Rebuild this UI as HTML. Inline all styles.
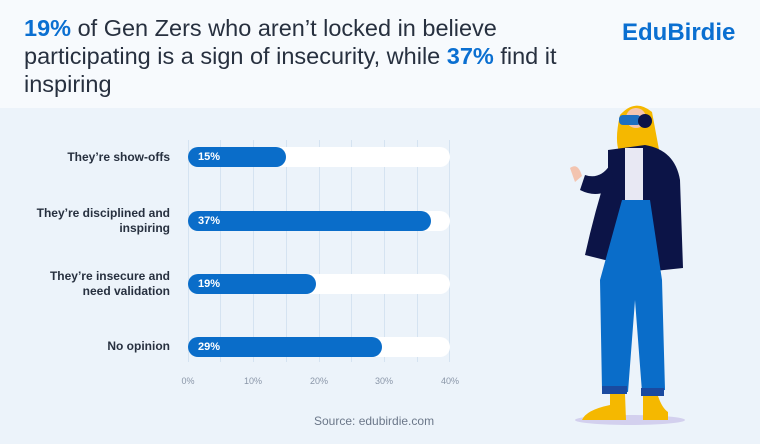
<!DOCTYPE html>
<html><head><meta charset="utf-8"><style>
body{margin:0;width:760px;height:444px;overflow:hidden;background:#ecf3fa;font-family:"Liberation Sans",sans-serif;position:relative}
.hdr{position:absolute;left:0;top:0;width:760px;height:108px;background:#f7fafd}
.title{position:absolute;left:24px;top:14px;width:575px;font-size:23.5px;line-height:28px;color:#27303f}
.title b{color:#0a6fd1}
.logo{position:absolute;left:622px;top:19px;font-size:24px;font-weight:bold;color:#0a6fd1}
.lbl{position:absolute;right:590px;font-size:12px;line-height:15px;color:#27303f;text-align:right;font-weight:bold;width:200px}
.grid{position:absolute;top:140px;width:1px;height:222px;background:#d5e3f1}
.track{position:absolute;left:188px;width:262px;height:20px;border-radius:10px;background:#fff}
.bar{position:absolute;left:188px;height:20px;border-radius:10px;background:#0a6dc9;color:#fff;font-size:11px;font-weight:bold;line-height:20px;box-sizing:border-box;padding-left:10px}
.tick{position:absolute;top:376px;font-size:9px;color:#8a96a8;width:30px;text-align:center}
.src{position:absolute;left:314px;top:414px;font-size:12px;color:#6b7789}
</style></head><body>
<div class="hdr"></div>
<div class="title"><b>19%</b> of Gen Zers who aren’t locked in believe participating is a sign of insecurity, while <b>37%</b> find it inspiring</div>
<div class="logo">EduBirdie</div>
<div class="grid" style="left:188px"></div><div class="grid" style="left:220px"></div><div class="grid" style="left:253px"></div><div class="grid" style="left:286px"></div><div class="grid" style="left:319px"></div><div class="grid" style="left:351px"></div><div class="grid" style="left:384px"></div><div class="grid" style="left:417px"></div><div class="grid" style="left:449px"></div>
<div class="lbl" style="top:150px">They’re show-offs</div>
<div class="lbl" style="top:206px">They’re disciplined and<br>inspiring</div>
<div class="lbl" style="top:269px">They’re insecure and<br>need validation</div>
<div class="lbl" style="top:339px">No opinion</div>
<div class="track" style="top:147px"></div><div class="bar" style="top:147px;width:98px">15%</div>
<div class="track" style="top:211px"></div><div class="bar" style="top:211px;width:243px">37%</div>
<div class="track" style="top:274px"></div><div class="bar" style="top:274px;width:128px">19%</div>
<div class="track" style="top:337px"></div><div class="bar" style="top:337px;width:194px">29%</div>
<div class="tick" style="left:173px">0%</div><div class="tick" style="left:238px">10%</div><div class="tick" style="left:304px">20%</div><div class="tick" style="left:369px">30%</div><div class="tick" style="left:435px">40%</div>
<div class="src">Source: edubirdie.com</div>
<svg style="position:absolute;left:0;top:0" width="760" height="444">
<ellipse cx="630" cy="420" rx="55" ry="5" fill="#d3d0ee"/>
<path d="M620 115 Q635 98 652 112 L660 155 Q650 165 640 155 L625 160 Q612 150 620 115Z" fill="#f5b800"/>
<path d="M608 150 L645 145 Q675 150 680 180 L683 268 L645 272 L625 265 L585 255 Q595 210 608 170Z" fill="#0c1447"/>
<path d="M585 175 Q600 180 610 165 L615 185 Q600 200 580 190Z" fill="#0c1447"/>
<rect x="625" y="148" width="18" height="55" fill="#e8e8f3"/>
<path d="M622 200 L650 200 L662 280 L665 390 L642 392 L635 300 L628 392 L602 390 L600 280 Z" fill="#0a6dc9"/>
<rect x="602" y="386" width="25" height="8" fill="#1a4aa0"/><rect x="641" y="388" width="23" height="8" fill="#1a4aa0"/>
<path d="M610 394 L625 394 L626 420 L582 420 Q586 410 610 405Z" fill="#f5b800"/>
<path d="M643 396 L658 396 Q662 408 668 412 L668 420 L643 420Z" fill="#f5b800"/>
<circle cx="636" cy="118" r="10" fill="#f3c4b0"/>
<rect x="619" y="115" width="22" height="10" rx="4" fill="#1e6fc0"/>
<circle cx="645" cy="121" r="7" fill="#0c1447"/>
<path d="M570 168 Q578 162 582 176 L575 182Z" fill="#f3c4b0"/>
</svg>
</body></html>
